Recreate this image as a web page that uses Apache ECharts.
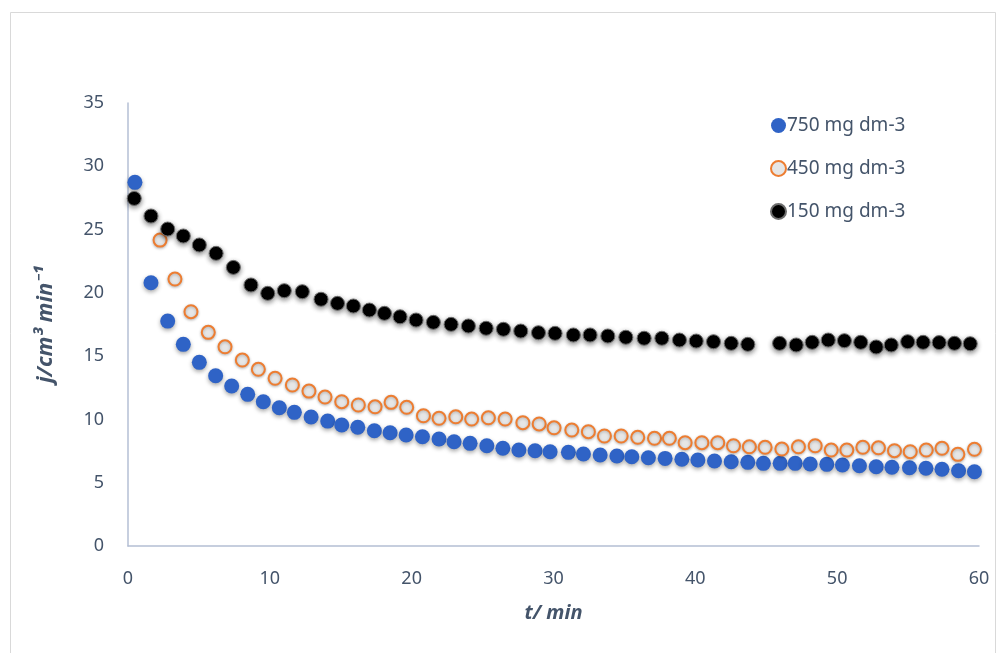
<!DOCTYPE html>
<html>
<head>
<meta charset="utf-8">
<script src="https://cdn.jsdelivr.net/npm/echarts@6/dist/echarts.min.js"></script>
<style>
html,body{margin:0;padding:0;background:#fff;}
#c{width:1008px;height:653px;}
</style>
</head>
<body>
<div id="c"></div>
<script>
var seriesNames = ['750 mg dm-3', '450 mg dm-3', '150 mg dm-3'];
var xTicks = [0, 10, 20, 30, 40, 50, 60];
var yTicks = [0, 5, 10, 15, 20, 25, 30, 35];

var t750 = [0.49,1.62,2.80,3.90,5.03,6.18,7.31,8.44,9.54,10.67,11.73,12.91,14.08,15.07,16.20,17.37,18.48,19.61,20.76,21.93,22.99,24.12,25.30,26.43,27.56,28.70,29.76,31.05,32.11,33.29,34.47,35.52,36.69,37.87,39.05,40.18,41.35,42.53,43.70,44.80,45.98,47.04,48.10,49.27,50.37,51.57,52.75,53.86,55.10,56.26,57.39,58.56,59.68];
var j750 = [28.73,20.80,17.77,15.93,14.51,13.45,12.64,11.98,11.40,10.92,10.56,10.19,9.87,9.56,9.38,9.11,8.95,8.77,8.63,8.45,8.24,8.11,7.92,7.72,7.58,7.53,7.45,7.40,7.27,7.19,7.11,7.05,6.97,6.92,6.85,6.79,6.71,6.66,6.61,6.53,6.53,6.53,6.48,6.45,6.40,6.34,6.26,6.22,6.18,6.14,6.06,5.95,5.87];

var t450 = [2.26,3.31,4.44,5.66,6.84,8.06,9.19,10.37,11.59,12.76,13.89,15.07,16.24,17.42,18.55,19.65,20.83,21.93,23.11,24.23,25.41,26.59,27.84,28.99,30.04,31.29,32.46,33.59,34.77,35.94,37.12,38.17,39.28,40.46,41.58,42.69,43.81,44.92,46.10,47.27,48.45,49.58,50.68,51.81,52.91,54.04,55.15,56.28,57.39,58.51,59.68];
var j450 = [24.17,21.09,18.51,16.88,15.74,14.69,13.96,13.25,12.72,12.24,11.77,11.40,11.14,11.00,11.35,10.96,10.29,10.09,10.21,10.03,10.13,10.03,9.74,9.64,9.34,9.16,9.03,8.69,8.69,8.59,8.51,8.51,8.16,8.16,8.16,7.92,7.84,7.80,7.66,7.84,7.92,7.58,7.58,7.80,7.76,7.53,7.45,7.58,7.72,7.24,7.64];

var t150 = [0.44,1.62,2.80,3.90,5.03,6.21,7.43,8.67,9.85,11.02,12.29,13.61,14.77,15.89,17.02,18.08,19.18,20.31,21.53,22.78,24.00,25.25,26.47,27.69,28.94,30.11,31.40,32.58,33.83,35.10,36.39,37.64,38.88,40.06,41.28,42.53,43.70,45.94,47.11,48.24,49.37,50.51,51.66,52.75,53.81,54.97,56.06,57.19,58.27,59.38];
var j150 = [27.46,26.07,25.04,24.49,23.78,23.12,22.01,20.62,19.96,20.17,20.09,19.49,19.17,18.96,18.64,18.38,18.11,17.85,17.67,17.51,17.38,17.20,17.12,16.98,16.85,16.80,16.67,16.67,16.59,16.49,16.41,16.41,16.27,16.19,16.14,16.01,15.93,16.01,15.88,16.09,16.27,16.22,16.09,15.72,15.88,16.14,16.09,16.07,16.01,15.98];

function pairs(t, j) { return t.map(function (v, i) { return [v, j[i]]; }); }

var labelColor = '#44546a';
var axisLineColor = '#b4bfd4';
var font = 'Noto Sans';

var chart = echarts.init(document.getElementById('c'), null, {renderer: 'canvas'});
chart.setOption({
  backgroundColor: '#ffffff',
  animation: false,
  graphic: [{
    type: 'rect',
    shape: {x: 10.5, y: 12.5, width: 985, height: 700},
    style: {fill: 'none', stroke: '#d9d9d9', lineWidth: 1},
    silent: true
  }],
  grid: {left: 128, right: 29, top: 103, bottom: 107, containLabel: false},
  legend: {
    orient: 'vertical',
    left: 765,
    top: 111,
    itemWidth: 15,
    itemHeight: 15,
    itemGap: 24,
    icon: 'circle',
    textStyle: {color: labelColor, fontSize: 19, fontFamily: font, padding: [0, 0, 0, -4]},
    data: seriesNames
  },
  xAxis: {
    type: 'value',
    min: 0, max: 60, interval: 10,
    name: 't/ min',
    nameLocation: 'middle',
    nameGap: 57,
    nameTextStyle: {color: labelColor, fontSize: 20, fontWeight: 'bold', fontStyle: 'italic', fontFamily: font},
    axisLine: {show: true, lineStyle: {color: axisLineColor, width: 1.5}},
    axisTick: {show: false},
    splitLine: {show: false},
    axisLabel: {color: labelColor, fontSize: 18, fontFamily: font, margin: 24,
      customValues: xTicks, formatter: function (v) { return String(v); }}
  },
  yAxis: {
    type: 'value',
    min: 0, max: 35, interval: 5,
    name: 'j/cm³ min⁻¹',
    nameLocation: 'middle',
    nameGap: 71,
    nameTextStyle: {color: labelColor, fontSize: 22, fontWeight: 'bold', fontStyle: 'italic', fontFamily: font},
    axisLine: {show: true, lineStyle: {color: axisLineColor, width: 1.5}},
    axisTick: {show: false},
    splitLine: {show: false},
    axisLabel: {color: labelColor, fontSize: 18, fontFamily: font, margin: 24,
      customValues: yTicks, formatter: function (v) { return String(v); }}
  },
  series: [
    {
      name: seriesNames[0], type: 'scatter', symbol: 'circle', symbolSize: 15,
      data: pairs(t750, j750), z: 3,
      itemStyle: {color: '#2f63c6', opacity: 1, shadowBlur: 4, shadowColor: 'rgba(0,0,0,0.35)', shadowOffsetY: 2}
    },
    {
      name: seriesNames[1], type: 'scatter', symbol: 'circle', symbolSize: 13,
      data: pairs(t450, j450), z: 4,
      itemStyle: {color: '#e6e6e6', opacity: 1, borderColor: '#ed7d31', borderWidth: 2, shadowBlur: 3, shadowColor: 'rgba(0,0,0,0.25)', shadowOffsetY: 1}
    },
    {
      name: seriesNames[2], type: 'scatter', symbol: 'circle', symbolSize: 14,
      data: pairs(t150, j150), z: 5,
      itemStyle: {color: '#000000', opacity: 1, borderColor: '#6e6e6e', borderWidth: 1, shadowBlur: 5, shadowColor: 'rgba(0,0,0,0.45)', shadowOffsetY: 2}
    }
  ]
});
</script>
</body>
</html>
